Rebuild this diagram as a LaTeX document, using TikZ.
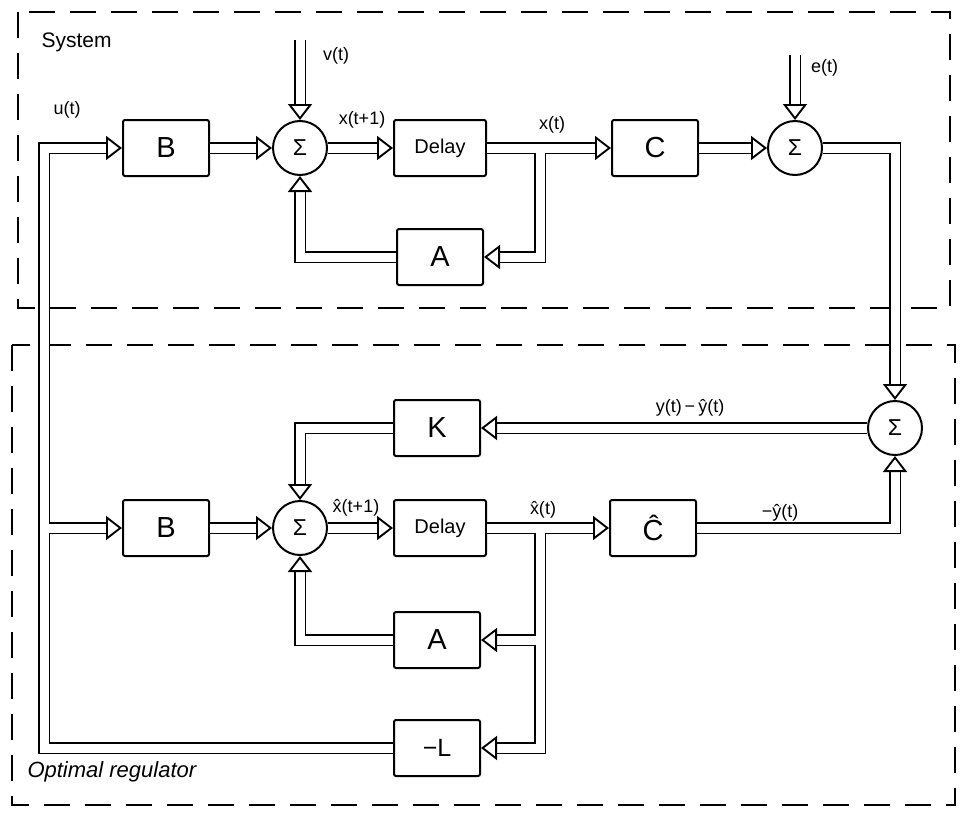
\documentclass[tikz,border=0pt]{standalone}
\usepackage{fontspec}
\setmainfont{Liberation Sans}
\usetikzlibrary{arrows.meta,calc}
\begin{document}
\begin{tikzpicture}[x=1pt, y=-1pt,
  blk/.style={draw, line width=2pt, rounded corners=2pt, minimum width=86pt, minimum height=56pt, inner sep=0pt},
  sumnode/.style={draw, circle, line width=2pt, minimum size=54pt, inner sep=0pt, font=\fontsize{23}{23}\selectfont},
  big/.style={font=\fontsize{29}{29}\selectfont},
  mid/.style={font=\fontsize{20}{20}\selectfont},
  lbl/.style={font=\fontsize{18}{18}\selectfont, inner sep=1pt},
  sig/.style={double, double distance=9pt, line width=1.9pt, -{Triangle[fill=white, length=16pt, width=24pt]}},
  frame/.style={dash pattern=on 26pt off 15pt, line width=2.2pt},
]
\useasboundingbox (0,0) rectangle (965,819);
% frames
\draw[frame] (18,12) rectangle (950,308);
\draw[frame] (12,345) rectangle (955,805);
\node[anchor=west, font=\fontsize{21}{21}\selectfont] (sys) at (38,42) {System};
\node[anchor=west, font=\fontsize{22}{22}\selectfont\itshape] (opt) at (24,772) {Optimal regulator};
% upper row
\node[blk, big] (B1) at (166,148) {B};
\node[sumnode] (S1) at (300,148) {Σ};
\node[blk, mid, minimum width=92pt] (D1) at (440,148) {Delay};
\node[blk, big] (A1) at (440,257) {A};
\node[blk, big] (C1) at (655,148) {C};
\node[sumnode] (S2) at (795,148) {Σ};
% lower part
\node[sumnode] (S3) at (895,428) {Σ};
\node[blk, big] (K) at (437,428) {K};
\node[blk, big] (B2) at (166,528) {B};
\node[sumnode] (S4) at (300,528) {Σ};
\node[blk, mid, minimum width=92pt] (D2) at (440,528) {Delay};
\node[blk, big] (C2) at (653,528) {Ĉ};
\node[blk, big] (A2) at (437,640) {A};
\node[blk, font=\fontsize{25}{25}\selectfont] (L) at (437,748) {−L};
% coordinates
\coordinate (vin) at (300,40);
\coordinate (ein) at (795,55);
\coordinate (br1) at (540,152.5);
\coordinate (br2) at (540,532.5);
\coordinate (br3) at (535.5,640);
\coordinate (busbot) at (44,748);
\coordinate (bustop) at (44,148);
\coordinate (bus2) at (48.5,528);
% upper connectors
\draw[sig] (vin) -- (S1.north);
\draw[sig] (ein) -- (S2.north);
\draw[sig] (B1.east) -- (S1.west);
\draw[sig] (S1.east) -- (D1.west);
\draw[sig] (D1.east) -- (C1.west);
\draw[sig] (br1) |- (A1.east);
\draw[sig] (A1.west) -| (S1.south);
\draw[sig] (C1.east) -- (S2.west);
\draw[sig] (S2.east) -| (S3.north);
% lower connectors
\draw[sig] (S3.west) -- (K.east);
\draw[sig] (K.west) -| (S4.north);
\draw[sig] (B2.east) -- (S4.west);
\draw[sig] (S4.east) -- (D2.west);
\draw[sig] (D2.east) -- (C2.west);
\draw[sig] (C2.east) -| (S3.south);
\draw[sig] (br2) |- (L.east);
\draw[sig] (br3) -- (A2.east);
\draw[sig] (A2.west) -| (S4.south);
\draw[sig] (L.west) -- (busbot) -- (bustop) -- (B1.west);
\draw[sig] (bus2) -- (B2.west);
% labels
\node[lbl, anchor=west] (lv) at (322,56) {v(t)};
\node[lbl, anchor=west] (le) at (810,68) {e(t)};
\node[lbl] (lu) at (67,110) {u(t)};
\node[lbl] (lx1) at (362,120) {x(t+1)};
\node[lbl] (lx) at (552,125) {x(t)};
\node[lbl] (ly) at (690,408) {y(t)\,−\,ŷ(t)};
\node[lbl] (lxh1) at (356,508) {\^{x}(t+1)};
\node[lbl] (lxh) at (543,510) {\^{x}(t)};
\node[lbl] (lyh) at (780,513) {−ŷ(t)};
\end{tikzpicture}
\end{document}
